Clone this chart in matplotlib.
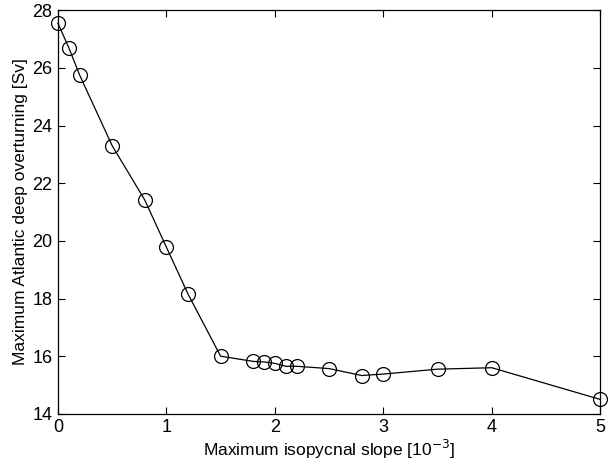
import matplotlib
matplotlib.use("Agg")
import matplotlib.pyplot as plt

slope = [0, 0.1, 0.2, 0.5, 0.8, 1.0, 1.2, 1.5, 1.8, 1.9, 2.0, 2.1, 2.2, 2.5, 2.8, 3.0, 3.5, 4.0, 5.0]
overturning = [27.55, 26.7, 25.75, 23.3, 21.42, 19.78, 18.15, 16.0, 15.82, 15.8, 15.75, 15.65, 15.65,
               15.57, 15.33, 15.38, 15.55, 15.6, 14.5]
xticks = [0, 1, 2, 3, 4, 5]
yticks = [14, 16, 18, 20, 22, 24, 26, 28]

plt.rcParams['font.family'] = ['Liberation Sans', 'DejaVu Sans']
fig = plt.figure(figsize=(6.1, 4.65), dpi=100)
ax = fig.add_axes([0.095, 0.110, 0.889, 0.868])
ax.plot(slope, overturning, color='black', lw=0.9, marker='o', ms=10, mfc='none', mec='black', mew=0.9,
        clip_on=False)
ax.set_xlim(0, 5)
ax.set_ylim(14, 28)
ax.set_xticks(xticks)
ax.set_yticks(yticks)
ax.tick_params(direction='in', top=True, right=True, labelsize=13, length=5, width=0.8, pad=4)
for s in ax.spines.values():
    s.set_linewidth(0.9)
ax.set_xlabel('Maximum isopycnal slope [10$^{-3}$]', fontsize=12.5, labelpad=1)
ax.set_ylabel('Maximum Atlantic deep overturning [Sv]', fontsize=12.5, labelpad=3)
fig.savefig('out.png', dpi=100)
